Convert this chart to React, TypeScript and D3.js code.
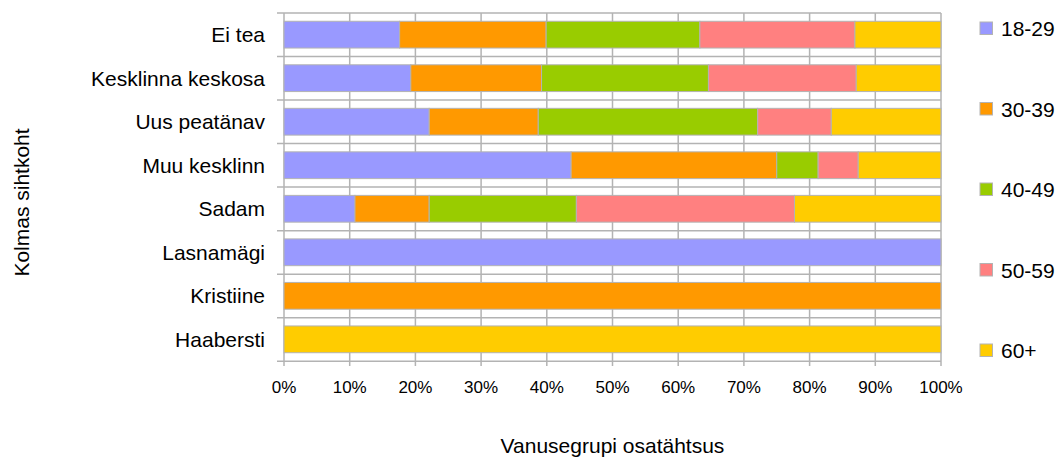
import React from "react";
import * as d3 from "d3";

const categories = ["Ei tea", "Kesklinna keskosa", "Uus peatänav", "Muu kesklinn", "Sadam", "Lasnamägi", "Kristiine", "Haabersti"];
const seriesNames = ["18-29", "30-39", "40-49", "50-59", "60+"];
const s1829 = [17.6, 19.3, 22.1, 43.7, 10.8, 100, 0, 0];
const s3039 = [22.3, 19.9, 16.6, 31.3, 11.3, 0, 100, 0];
const s4049 = [23.4, 25.4, 33.4, 6.3, 22.4, 0, 0, 0];
const s5059 = [23.6, 22.5, 11.2, 6.1, 33.2, 0, 0, 0];
const s60 = [13.1, 12.9, 16.7, 12.6, 22.3, 0, 0, 100];
const colors = ["#9999ff", "#ff9900", "#99cc00", "#ff8080", "#ffcc00"];
const xTicks = [0, 10, 20, 30, 40, 50, 60, 70, 80, 90, 100];
const xTitle = "Vanusegrupi osatähtsus";
const yTitle = "Kolmas sihtkoht";

const W = 1059;
const H = 459;
const FONT = "'Liberation Sans', Arial, sans-serif";
const GRID = "#b3b3b3";

export default function App() {
  const allSeries = [s1829, s3039, s4049, s5059, s60];
  const rows = categories.map((c, i) => {
    const r: any = { cat: c };
    seriesNames.forEach((s, j) => (r[s] = allSeries[j][i]));
    return r;
  });
  const stacked = d3.stack().keys(seriesNames)(rows);

  const x = d3.scaleLinear().domain([0, 100]).range([284, 941]);
  const y = d3.scaleBand().domain(categories).range([13, 361]).paddingInner(0.385).paddingOuter(0.19);
  const step = y.step();
  const boundaries = d3.range(categories.length + 1).map((i) => 13 + i * step);

  const legendY = d3.scaleLinear().domain([0, seriesNames.length - 1]).range([28.5, 350.5]);

  return (
    <svg width={W} height={H} style={{ position: "absolute", left: 0, top: 0 }} fontFamily={FONT}>
      <rect x={0} y={0} width={W} height={H} fill="#ffffff" />
      {/* vertical gridlines */}
      {xTicks.map((t) => (
        <line key={"vg" + t} x1={x(t)} x2={x(t)} y1={13} y2={366} stroke={GRID} strokeWidth={1.5} />
      ))}
      {/* horizontal gridlines + left ticks */}
      {boundaries.map((b, i) => (
        <line key={"hg" + i} x1={277} x2={941} y1={b} y2={b} stroke={GRID} strokeWidth={1.5} />
      ))}
      {/* bars */}
      {stacked.map((layer, li) => (
        <g key={layer.key} fill={colors[li]}>
          {layer.map((d: any, i: number) =>
            d[1] - d[0] > 0 ? (
              <rect
                key={i}
                x={x(d[0])}
                y={y(d.data.cat)}
                width={x(d[1]) - x(d[0])}
                height={y.bandwidth()}
                stroke={GRID}
                strokeWidth={1}
              />
            ) : null
          )}
        </g>
      ))}
      {/* category labels */}
      {categories.map((c) => (
        <text key={c} x={265} y={(y(c) as number) + y.bandwidth() / 2} dy="0.36em" textAnchor="end" fontSize={21} fill="#000">
          {c}
        </text>
      ))}
      {/* x tick labels */}
      {xTicks.map((t) => (
        <text key={"xt" + t} x={x(t)} y={393} textAnchor="middle" fontSize={17} fill="#000">
          {t + "%"}
        </text>
      ))}
      {/* axis titles */}
      <text x={612.5} y={453} textAnchor="middle" fontSize={21} fill="#000">
        {xTitle}
      </text>
      <text transform={`translate(28.5,202.5) rotate(-90)`} textAnchor="middle" fontSize={21} fill="#000">
        {yTitle}
      </text>
      {/* legend */}
      {seriesNames.map((s, i) => (
        <g key={s}>
          <rect x={980} y={legendY(i) - 6.5} width={12.5} height={12.5} fill={colors[i]} stroke={GRID} strokeWidth={1} />
          <text x={1001} y={legendY(i)} dy="0.36em" fontSize={21} fill="#000">
            {s}
          </text>
        </g>
      ))}
    </svg>
  );
}
